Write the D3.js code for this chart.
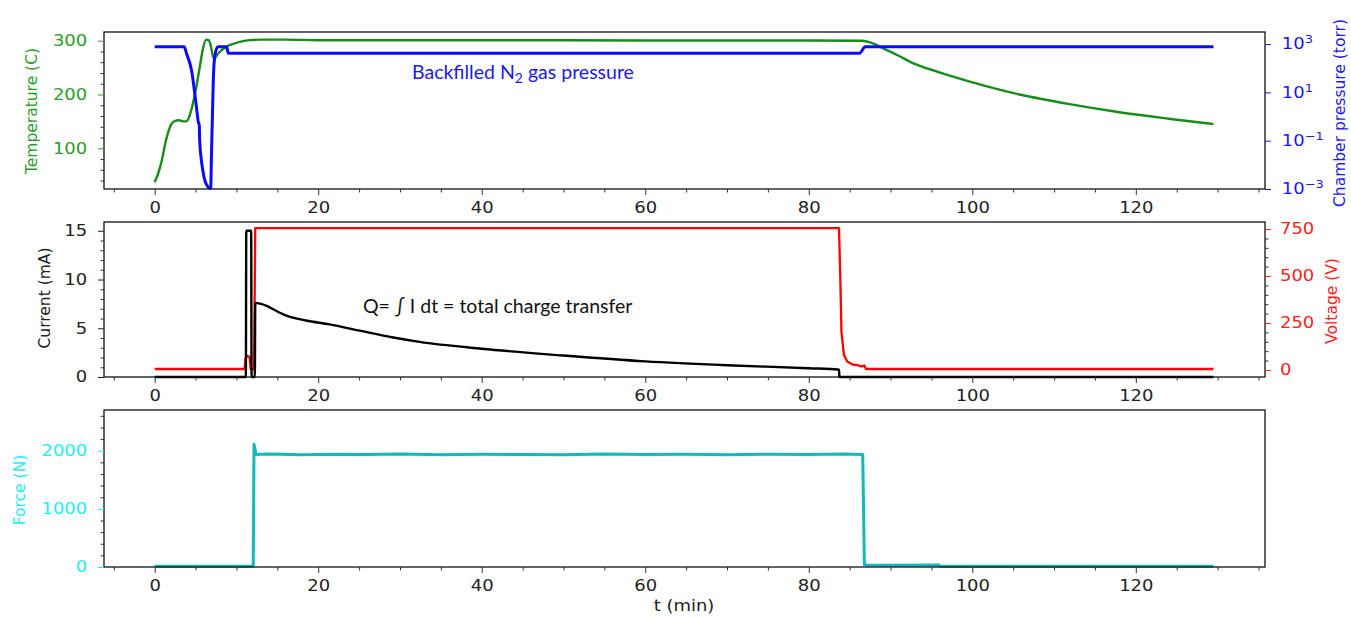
<!DOCTYPE html>
<html lang="en">
<head>
<meta charset="UTF-8">
<script src="https://d3js.org/d3.v7.min.js"></script>
<title>Temperature, pressure, current, voltage and force vs time</title>
<style>
body { margin: 0; background: white; }
svg { display: block; }
.note { font-family: Lato, 'Open Sans', sans-serif; font-size: 19.5px; }
</style>
</head>
<body>
<svg id="canvas" width="1351" height="617"></svg>
<script>
// values (t in minutes)
const tempT = [0, 0.4, 0.8, 1.4, 2.0, 2.5, 3.0, 3.5, 3.9, 4.3, 4.7, 5.1, 5.5, 5.9, 6.3, 6.6, 6.9, 7.1, 7.3, 7.6, 8.0, 8.8, 9.6, 10.4, 11.6, 13, 16, 20, 40, 60, 80, 86.5, 87.5, 89.5, 91, 92.8, 95.6, 99.7, 105.8, 111.9, 118, 124, 129.5];
const tempC = [37, 52, 73, 116, 144, 151, 152, 150, 150, 162, 185, 215, 250, 285, 302, 301, 288, 272, 267, 273, 280, 289, 294, 298, 301, 302, 302, 301, 301, 300.5, 300.5, 300, 297, 283, 272, 258, 243, 224, 200, 182, 167, 155, 145];

const presT = [0, 3.6, 3.9, 4.5, 5.1, 5.35, 5.45, 5.5, 5.7, 5.9, 6.1, 6.4, 6.7, 6.85, 6.95, 7.05, 7.2, 7.4, 7.75, 8.8, 9.0, 86.2, 86.9, 129.5];
const presTorr = [776, 776, 400, 85, 2.6, 0.56, 0.45, 0.11, 0.0166, 0.0056, 0.0025, 0.0014, 0.00107, 0.00107, 0.0316, 0.74, 63, 400, 776, 776, 417, 417, 776, 776];

const curT = [0, 11.15, 11.2, 11.8, 11.85, 12.25, 12.3, 13.0, 13.7, 14.5, 16.1, 18.5, 21.4, 25.1, 29.2, 32.4, 40, 50, 60, 70, 80, 83.7, 83.75, 129.5];
const curMA = [0, 0, 15, 15, 0, 0, 7.6, 7.5, 7.3, 6.95, 6.3, 5.8, 5.4, 4.75, 4.05, 3.6, 2.9, 2.2, 1.6, 1.2, 0.9, 0.75, 0, 0];

const voltT = [0, 11.0, 11.1, 11.3, 11.6, 11.75, 12.15, 12.3, 83.7, 83.85, 84.0, 84.3, 84.7, 85.3, 86.0, 86.5, 86.8, 87.0, 129.5];
const voltV = [5, 5, 60, 75, 70, 5, 5, 755, 755, 500, 200, 80, 45, 30, 25, 18, 24, 5, 5];

const forceT = [0, 12.05, 12.15, 12.4, 14, 18, 22, 26, 30, 35, 40, 45, 50, 55, 60, 65, 70, 75, 80, 84, 86.6, 86.8, 87.2, 90, 95.9, 96.1, 129.5];
const forceN = [12, 12, 2110, 1935, 1945, 1930, 1940, 1935, 1945, 1930, 1940, 1935, 1930, 1945, 1935, 1940, 1930, 1940, 1935, 1945, 1935, 40, 35, 30, 35, 12, 12];

const xTicks = [0, 20, 40, 60, 80, 100, 120];
const tempTicks = [100, 200, 300];
const presTicks = [1e-3, 1e-1, 1e1, 1e3];
const curTicks = [0, 5, 10, 15];
const voltTicks = [0, 250, 500, 750];
const forceTicks = [0, 1000, 2000];

let svg = d3.select('#canvas');
const font = "'DejaVu Sans', sans-serif";
let x = d3.scaleLinear().domain([-6.2, 135.8]).range([104, 1265]);
let xMinor = d3.range(-5, 136, 5).filter(v => v % 20 !== 0);

// horizontal text in the picture is a bit wider than the vertical text
let stretch = (g) => g.selectAll('text').attr('transform', 'scale(1.2,1)');

let drawXAxis = (y0, y1) => {
    svg.append('g').attr('transform', `translate(0,${y1})`)
        .call(d3.axisBottom(x).tickValues(xMinor).tickFormat('').tickSize(3.5).tickSizeOuter(0))
        .call(g => g.select('.domain').remove())
        .selectAll('line').attr('stroke', '#333');
    let g = svg.append('g').attr('transform', `translate(0,${y1})`)
        .call(d3.axisBottom(x).tickValues(xTicks).tickSize(6).tickPadding(7).tickSizeOuter(0));
    g.attr('font-size', 15).attr('font-family', font);
    g.select('.domain').remove();
    g.selectAll('line').attr('stroke', '#333');
    g.selectAll('text').attr('fill', '#222');
    stretch(g);
};

let drawYAxis = (scale, side, majors, minors, color, fmt, pad) => {
    let px = side === 'left' ? 104 : 1265;
    let mk = side === 'left' ? d3.axisLeft : d3.axisRight;
    if (minors) {
        svg.append('g').attr('transform', `translate(${px},0)`)
            .call(mk(scale).tickValues(minors).tickFormat('').tickSize(3.5).tickSizeOuter(0))
            .call(g => g.select('.domain').remove())
            .selectAll('line').attr('stroke', '#333');
    }
    let g = svg.append('g').attr('transform', `translate(${px},0)`)
        .call(mk(scale).tickValues(majors).tickSize(6).tickPadding(pad).tickSizeOuter(0).tickFormat(fmt || d3.format('d')));
    g.attr('font-size', 15).attr('font-family', font);
    g.select('.domain').remove();
    g.selectAll('line').attr('stroke', color);
    g.selectAll('text').attr('fill', color);
    stretch(g);
    return g;
};

let frame = (y0, y1) => {
    svg.append('rect').attr('x', 104).attr('y', y0).attr('width', 1265 - 104).attr('height', y1 - y0)
        .attr('fill', 'none').attr('stroke', '#111').attr('stroke-width', 1.3);
};

let yLabel = (txt, cx, cy, color) => {
    svg.append('text').attr('transform', `translate(${cx},${cy}) rotate(-90)`)
        .attr('text-anchor', 'middle').attr('dy', '0.35em')
        .attr('font-family', font).attr('font-size', 15.5).attr('fill', color).text(txt);
};

let drawLine = (ts, vs, yScale, color, w, curve) => {
    let line = d3.line().x(d => x(d[0])).y(d => yScale(d[1])).curve(curve || d3.curveLinear);
    svg.append('path').datum(d3.zip(ts, vs)).attr('d', line)
        .attr('fill', 'none').attr('stroke', color).attr('stroke-width', w)
        .attr('stroke-linejoin', 'round');
};

// ---- top panel: temperature + chamber pressure
let yTemp = d3.scaleLinear().domain([24.3, 316.2]).range([189, 32]);
let yPres = d3.scaleLog().domain([1e-3, Math.pow(10, 3.5)]).range([189, 32]);

drawLine(tempT, tempC, yTemp, '#178c17', 2.4, d3.curveMonotoneX);
drawLine(presT, presTorr, yPres, '#0a0aff', 3, d3.curveMonotoneX);
frame(32, 189);
drawXAxis(32, 189);
drawYAxis(yTemp, 'left', tempTicks, d3.range(40, 316, 20).filter(v => v % 100 !== 0), '#2a9d2a', null, 8);
let pg = drawYAxis(yPres, 'right', presTicks, null, '#1a1aee', () => '', 8);
pg.selectAll('text').each(function(d) {
    let t = d3.select(this);
    t.text('10');
    let e = Math.round(Math.log10(d));
    t.append('tspan').attr('dy', '-0.55em').attr('font-size', '0.72em').text(e < 0 ? '\u2212' + (-e) : e);
});
yLabel('Temperature (C)', 32, 111, '#2a9d2a');
yLabel('Chamber pressure (torr)', 1340, 113, '#1a1aee');

let n2 = svg.append('text').attr('class', 'note').attr('x', 412).attr('y', 79).attr('fill', '#1a1aee');
n2.append('tspan').text('Backfilled N');
n2.append('tspan').attr('dy', 4).attr('font-size', 14).text('2');
n2.append('tspan').attr('dy', -4).text(' gas pressure');

// ---- middle panel: current + voltage
let yCur = d3.scaleLinear().domain([0, 15.9]).range([377, 222]);
let yVolt = d3.scaleLinear().domain([-37.5, 787.5]).range([377, 222]);

drawLine(voltT, voltV, yVolt, '#ff0000', 2.3);
drawLine(curT, curMA, yCur, '#000000', 2.4, d3.curveMonotoneX);
frame(222, 377);
drawXAxis(222, 377);
drawYAxis(yCur, 'left', curTicks, d3.range(1, 16, 1).filter(v => v % 5 !== 0), '#222', null, 8);
drawYAxis(yVolt, 'right', voltTicks, d3.range(50, 786, 50).filter(v => v % 250 !== 0), '#ff2020', null, 6.5);
yLabel('Current (mA)', 45, 298, '#222');
yLabel('Voltage (V)', 1332, 301, '#ff2020');

svg.append('text').attr('class', 'note').attr('x', 363).attr('y', 313).attr('fill', '#111')
    .text('Q= \u222B I dt = total charge transfer');

// ---- bottom panel: force
let yForce = d3.scaleLinear().domain([0, 2700]).range([567, 410]);

drawLine(forceT, forceN, yForce, '#14b8b8', 3);
frame(410, 567);
drawXAxis(410, 567);
drawYAxis(yForce, 'left', forceTicks, d3.range(200, 2700, 200).filter(v => v % 1000 !== 0), '#22eeee', null, 8);
yLabel('Force (N)', 20, 490, '#22eeee');

svg.append('text').attr('x', 684 / 1.2).attr('y', 606).attr('dy', '0.35em')
    .attr('transform', 'scale(1.2,1)').attr('text-anchor', 'middle')
    .attr('font-family', font).attr('font-size', 15).attr('fill', '#222').text('t (min)');
</script>
</body>
</html>
